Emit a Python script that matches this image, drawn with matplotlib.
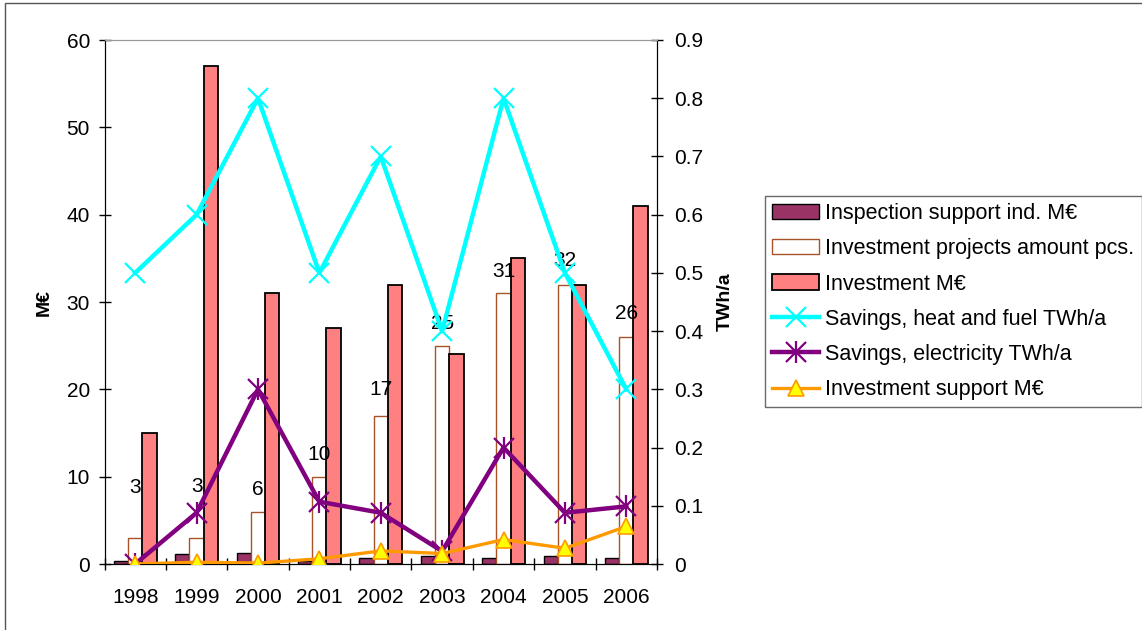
import matplotlib
matplotlib.use("Agg")
import matplotlib.pyplot as plt
import numpy as np
from matplotlib.patches import Rectangle
from matplotlib.ticker import FuncFormatter

plt.rcParams['font.family'] = ['Liberation Sans', 'DejaVu Sans']
plt.rcParams['font.size'] = 12

years = ['1998', '1999', '2000', '2001', '2002', '2003', '2004', '2005', '2006']
inspection_support = [0.3, 1.1, 1.3, 0.4, 0.7, 0.95, 0.7, 0.95, 0.7]
project_count = [3, 3, 6, 10, 17, 25, 31, 32, 26]
investment = [15, 57, 31, 27, 32, 24, 35, 32, 41]
savings_heat = [0.5, 0.6, 0.8, 0.5, 0.7, 0.4, 0.8, 0.5, 0.3]
savings_elec = [0.0, 0.088, 0.3, 0.107, 0.088, 0.022, 0.2, 0.088, 0.099]
investment_support = [0.0, 0.2, 0.1, 0.6, 1.5, 1.2, 2.8, 1.8, 4.3]

W, H = 1142, 630
fig = plt.figure(figsize=(W / 100, H / 100), dpi=100)

# outer chart frame
fig.patches.append(Rectangle((5 / W, -0.1), 1.2, 1 - 3 / H + 0.1,
                             transform=fig.transFigure, fill=False,
                             edgecolor='#555555', lw=1.0))

pos = [104.5 / W, 1 - 564 / H, (657 - 104.5) / W, (564 - 40) / H]
ax1 = fig.add_axes(pos)
ax2 = ax1.twinx()
ax3 = fig.add_axes(pos, sharex=ax1, sharey=ax1, frameon=False)
ax3.axis('off')

x = np.arange(len(years))
bw = 0.232

b1 = ax1.bar(x - bw, inspection_support, bw, color='#993366',
             edgecolor='black', lw=1.0, zorder=2)
b2 = ax1.bar(x, project_count, bw, color='white',
             edgecolor='#A8522A', lw=1.0, zorder=2)
b3 = ax1.bar(x + bw, investment, bw, color='#FF8080',
             edgecolor='black', lw=1.3, zorder=2)

label_offsets = [36, 37, 16, 16, 19, 16, 16, 17, 17]
for xi, v, off in zip(x, project_count, label_offsets):
    ax1.annotate(str(v), (xi, v), xytext=(0, off), textcoords='offset points',
                 ha='center', va='center', fontsize=15)

l_heat, = ax2.plot(x, savings_heat, color='#00FFFF', lw=3.2,
                   marker='x', ms=14, mew=1.6, zorder=3)
l_elec, = ax2.plot(x, savings_elec, color='#800080', lw=3.2,
                   marker='x', ms=14, mew=1.6, zorder=3)
l_elec_bar, = ax2.plot(x, savings_elec, ls='none', color='#800080',
                       marker='|', ms=16, mew=1.6, zorder=3)
l_sup, = ax3.plot(x, investment_support, color='#FF9900', lw=2.4,
                  marker='^', ms=12, mfc='#FFFF00', mec='#FF9900',
                  mew=1.2, zorder=4)

ax1.set_xlim(-0.5, len(years) - 0.5)
ax1.set_ylim(0, 60)
ax2.set_ylim(0, 0.9)
ax1.set_yticks(np.arange(0, 61, 10))
ax2.set_yticks(np.arange(0, 0.91, 0.1))
ax2.yaxis.set_major_formatter(FuncFormatter(lambda v, p: '0' if abs(v) < 1e-9 else f'{v:.1f}'))

# category boundaries as tick marks, year labels at the centres
ax1.set_xticks(np.arange(-0.5, len(years), 1.0))
ax1.set_xticklabels([])
ax1.set_xticks(x, minor=True)
ax1.set_xticklabels(years, minor=True)
ax1.tick_params(axis='x', which='major', direction='inout', length=9, width=1)
ax1.tick_params(axis='x', which='minor', length=0, pad=17, labelsize=15)
ax1.tick_params(axis='y', direction='inout', length=9, width=1, labelsize=15, pad=6)
ax2.tick_params(axis='y', direction='inout', length=9, width=1, labelsize=15, pad=8)

for ax in (ax1, ax2):
    ax.spines['top'].set_color('#999999')
    ax.spines['left'].set_color('black')
    ax.spines['right'].set_color('black')
    ax.spines['bottom'].set_color('black')

ax1.set_ylabel('M€', fontweight='bold', fontsize=14)
ax1.yaxis.set_label_coords((53 - 104.5) / (657 - 104.5), 0.5)
ax2.set_ylabel('TWh/a', fontweight='bold', fontsize=14)
ax2.yaxis.set_label_coords((717 - 104.5) / (657 - 104.5), 0.5)

handles = [b1, b2, b3, l_heat, (l_elec, l_elec_bar), l_sup]
labels = ['Inspection support ind. M€', 'Investment projects amount pcs.',
          'Investment M€', 'Savings, heat and fuel TWh/a',
          'Savings, electricity TWh/a', 'Investment support M€']
leg = fig.legend(handles, labels, loc='upper left',
                 bbox_to_anchor=(765 / W, 1 - 196 / H),
                 bbox_transform=fig.transFigure,
                 frameon=True, fancybox=False, edgecolor='#444444',
                 handlelength=2.2, handletextpad=0.28, labelspacing=0.66,
                 borderpad=0.33, borderaxespad=0, fontsize=15.5)
leg.get_frame().set_linewidth(1.0)

fig.savefig('out.png', dpi=100)
